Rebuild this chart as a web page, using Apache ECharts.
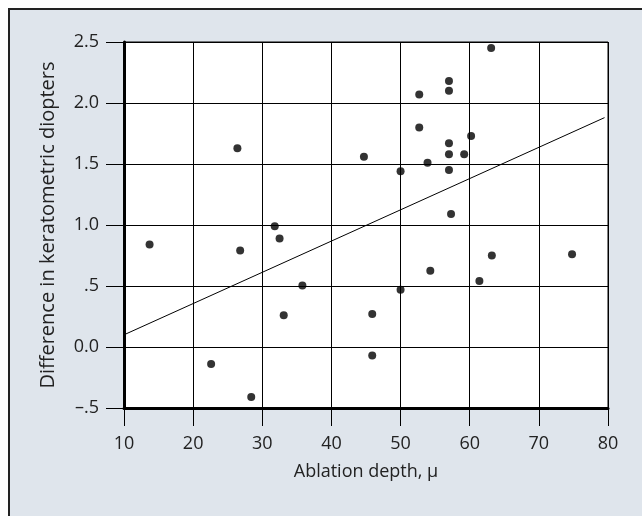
<!DOCTYPE html>
<html>
<head>
<meta charset="utf-8">
<script src="https://cdn.jsdelivr.net/npm/echarts@6/dist/echarts.min.js"></script>
<style>
  html, body { margin: 0; padding: 0; background: #fff; }
  #chart { width: 642px; height: 516px; }
</style>
</head>
<body>
<div id="chart"></div>
<script>
// ablation depth (x) and change in keratometric diopters (y)
const depth = [13.7, 22.6, 28.4, 26.4, 26.8, 31.8, 32.5, 35.8, 33.1, 44.7,
  45.9, 45.9, 50.0, 50.0, 52.7, 52.7, 53.9, 54.3, 57.0, 57.0,
  57.0, 57.0, 57.0, 57.3, 59.2, 60.2, 63.1, 61.4, 63.2, 74.8]
const diopters = [0.84, -0.14, -0.41, 1.63, 0.79, 0.99, 0.89, 0.505, 0.26, 1.56,
  0.27, -0.07, 1.44, 0.47, 2.07, 1.80, 1.51, 0.625, 2.18, 2.10,
  1.67, 1.58, 1.45, 1.09, 1.58, 1.73, 2.45, 0.54, 0.75, 0.76]

// fitted line end points
const fitX = [10, 79.5]
const fitY = [0.10, 1.88]

const yTicks = [-0.5, 0, 0.5, 1, 1.5, 2, 2.5]
const yTickLabels = ['\u2013.5', '0.0', '.5', '1.0', '1.5', '2.0', '2.5']

const font = 'Open Sans'
const ink = '#222'

const chart = echarts.init(document.getElementById('chart'))

const option = {
  backgroundColor: '#fff',
  animation: false,
  graphic: [
    {
      type: 'rect',
      z: -10,
      shape: { x: 9, y: 9, width: 700, height: 600 },
      style: { fill: '#dfe5ec', stroke: '#222', lineWidth: 2 },
      silent: true
    }
  ],
  grid: {
    left: 124,
    right: 34,
    top: 42,
    bottom: 108,
    show: true,
    backgroundColor: '#fff',
    borderColor: '#000',
    borderWidth: 1
  },
  xAxis: {
    type: 'value',
    min: 10,
    max: 80,
    interval: 10,
    name: 'Ablation depth, \u03bc',
    nameLocation: 'middle',
    nameGap: 55,
    nameTextStyle: { fontFamily: font, fontSize: 18, color: ink },
    axisLine: { show: true, onZero: false, lineStyle: { color: '#000', width: 3 } },
    axisTick: { show: true, inside: false, length: 18, lineStyle: { color: '#000', width: 1 } },
    axisLabel: { margin: 27, fontFamily: font, fontSize: 18, color: ink },
    splitLine: { show: true, lineStyle: { color: '#000', width: 1 } }
  },
  yAxis: {
    type: 'value',
    min: -0.5,
    max: 2.5,
    interval: 0.5,
    name: 'Difference in keratometric diopters',
    nameLocation: 'middle',
    nameGap: 66,
    nameTextStyle: { fontFamily: font, fontSize: 20, color: ink },
    axisLine: { show: true, onZero: false, lineStyle: { color: '#000', width: 3 } },
    axisTick: { show: true, inside: false, length: 18, lineStyle: { color: '#000', width: 1 } },
    axisLabel: {
      margin: 25,
      fontFamily: font,
      fontSize: 18,
      color: ink,
      formatter: v => {
        const i = yTicks.findIndex(t => Math.abs(t - v) < 1e-6)
        return i >= 0 ? yTickLabels[i] : ''
      }
    },
    splitLine: { show: true, lineStyle: { color: '#000', width: 1 } }
  },
  series: [
    {
      type: 'line',
      data: fitX.map((x, i) => [x, fitY[i]]),
      symbol: 'none',
      lineStyle: { color: '#000', width: 1 },
      z: 3
    },
    {
      type: 'scatter',
      data: depth.map((x, i) => [x, diopters[i]]),
      symbol: 'circle',
      symbolSize: 8,
      itemStyle: { color: '#000' },
      z: 4
    }
  ]
}

chart.setOption(option)
</script>
</body>
</html>
